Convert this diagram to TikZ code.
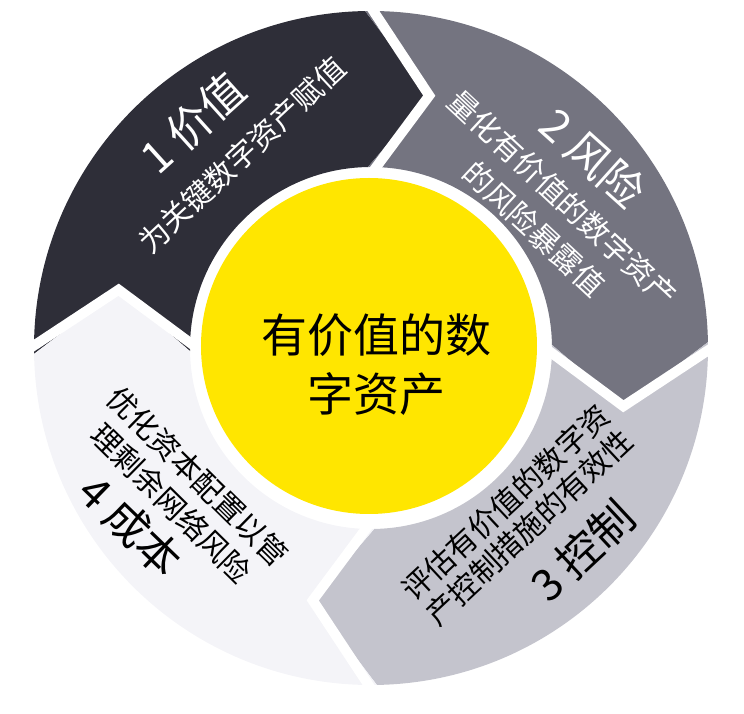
\documentclass[tikz,border=0pt]{standalone}
\usepackage{fontspec}
\newfontfamily\cjk{Noto Sans CJK SC}
\definecolor{cdark}{HTML}{2E2E38}
\definecolor{cmid}{HTML}{747480}
\definecolor{clight}{HTML}{C4C4CD}
\definecolor{cvlight}{HTML}{F4F4F8}
\definecolor{cyel}{HTML}{FFE600}
\tikzset{
  gapline/.style={draw=white, line width=10pt, line join=miter},
  ttl/.style={font=\cjk\fontsize{44}{50}\selectfont, inner sep=0pt},
  txt/.style={font=\cjk\fontsize{30}{36}\selectfont, inner sep=0pt, align=center},
  ctr/.style={font=\cjk\fontsize{46}{59}\selectfont, inner sep=0pt, align=center},
}
\begin{document}
\begin{tikzpicture}[x=1pt,y=1pt]
\useasboundingbox (-371,-366) rectangle (373,348);
% segments
\fill[cdark] (181:337pt) arc[start angle=181,end angle=91,radius=337pt] -- (77:259pt) -- (91:181pt) arc[start angle=91,end angle=181,radius=181pt] -- (167:259pt) -- cycle;
\fill[cmid] (91:337pt) arc[start angle=91,end angle=1,radius=337pt] -- (-13:259pt) -- (1:181pt) arc[start angle=1,end angle=91,radius=181pt] -- (77:259pt) -- cycle;
\fill[clight] (1:337pt) arc[start angle=1,end angle=-89,radius=337pt] -- (-103:259pt) -- (-89:181pt) arc[start angle=-89,end angle=1,radius=181pt] -- (-13:259pt) -- cycle;
\fill[cvlight] (-89:337pt) arc[start angle=-89,end angle=-179,radius=337pt] -- (-193:259pt) -- (-179:181pt) arc[start angle=-179,end angle=-89,radius=181pt] -- (-103:259pt) -- cycle;
% white gaps
\draw[gapline] (91:350pt) -- (77:259pt) -- (91:170pt);
\draw[gapline] (1:350pt) -- (-13:259pt) -- (1:170pt);
\draw[gapline] (-89:350pt) -- (-103:259pt) -- (-89:170pt);
\draw[gapline] (181:350pt) -- (167:259pt) -- (181:170pt);
% centre
\node[circle, fill=cyel, minimum size=336pt, inner sep=0pt] (core) at (-2,2) {};
\node[ctr] (coretxt) at (6,-17) {有价值的数\\字资产};
% segment 1
\node[ttl, white, rotate=42] (t1) at (-178,225) {1 价值};
\node[txt, white, rotate=43] (s1) at (-129,193) {为关键数字资产赋值};
% segment 2
\node[ttl, white, rotate=-42] (t2) at (222,190) {2 风险};
\node[txt, white, rotate=-43, font=\cjk\fontsize{30}{42}\selectfont] (s2) at (177.5,134.5) {量化有价值的数字资产\\的风险暴露值};
% segment 3
\node[txt, black, rotate=43, font=\cjk\fontsize{30}{34}\selectfont] (s3) at (146.5,-167) {评估有价值的数字资\\产控制措施的有效性};
\node[ttl, black, rotate=43] (t3) at (212,-203) {3 控制};
% segment 4
\node[txt, black, rotate=-44.5, font=\cjk\fontsize{30}{37.5}\selectfont] (s4) at (-186.5,-142) {优化资本配置以管\\理剩余网络风险};
\node[ttl, black, rotate=-44] (t4) at (-240,-178) {4 成本};
\end{tikzpicture}
\end{document}
